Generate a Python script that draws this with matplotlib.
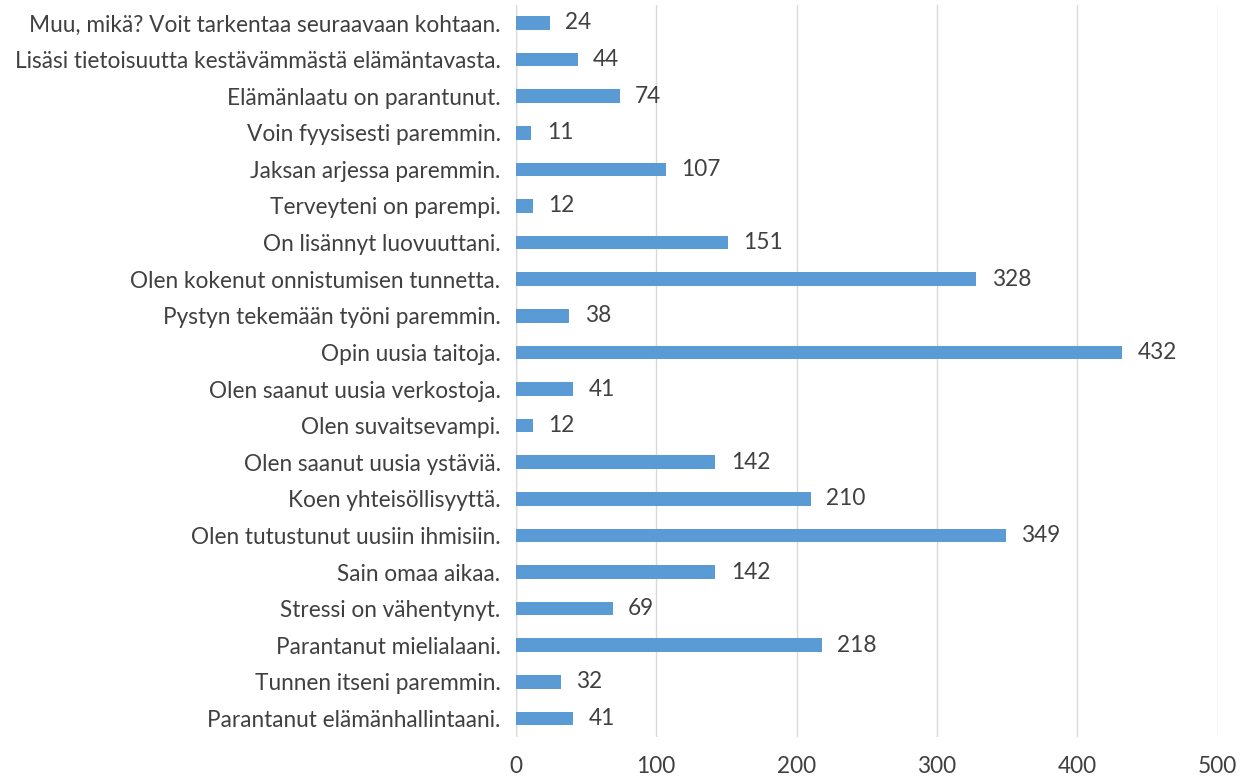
import matplotlib.pyplot as plt
import numpy as np

# Categories listed bottom to top
categories = [
    "Parantanut elämänhallintaani.",
    "Tunnen itseni paremmin.",
    "Parantanut mielialaani.",
    "Stressi on vähentynyt.",
    "Sain omaa aikaa.",
    "Olen tutustunut uusiin ihmisiin.",
    "Koen yhteisöllisyyttä.",
    "Olen saanut uusia ystäviä.",
    "Olen suvaitsevampi.",
    "Olen saanut uusia verkostoja.",
    "Opin uusia taitoja.",
    "Pystyn tekemään työni paremmin.",
    "Olen kokenut onnistumisen tunnetta.",
    "On lisännyt luovuuttani.",
    "Terveyteni on parempi.",
    "Jaksan arjessa paremmin.",
    "Voin fyysisesti paremmin.",
    "Elämänlaatu on parantunut.",
    "Lisäsi tietoisuutta kestävämmästä elämäntavasta.",
    "Muu, mikä? Voit tarkentaa seuraavaan kohtaan.",
]
values = [41, 32, 218, 69, 142, 349, 210, 142, 12, 41,
          432, 38, 328, 151, 12, 107, 11, 74, 44, 24]
x_ticks = [0, 100, 200, 300, 400, 500]

plt.rcParams['font.family'] = ['Lato', 'DejaVu Sans']

fig = plt.figure(figsize=(12.4, 7.78), dpi=100)
ax = fig.add_axes([0.416, 0.053, 0.566, 0.941])

y = np.arange(len(categories))
ax.barh(y, values, height=0.37, color='#5B9BD5', zorder=3)
for yi, v in zip(y, values):
    ax.text(v + 11, yi, str(v), va='center', ha='left', fontsize=16.3, color='#404040')

ax.set_xlim(0, 500)
ax.set_ylim(-0.5, len(categories) - 0.5)
ax.set_xticks(x_ticks)
ax.set_yticks(y)
ax.set_yticklabels(categories)
ax.tick_params(axis='both', length=0, labelsize=16.3, colors='#404040')
ax.tick_params(axis='x', pad=14)
ax.tick_params(axis='y', pad=11)
ax.grid(axis='x', color='#D9D9D9', linewidth=1, zorder=0)
for s in ax.spines.values():
    s.set_visible(False)
ax.axvline(0, color='#D9D9D9', linewidth=1, zorder=1)

fig.savefig('out.png', dpi=100)
